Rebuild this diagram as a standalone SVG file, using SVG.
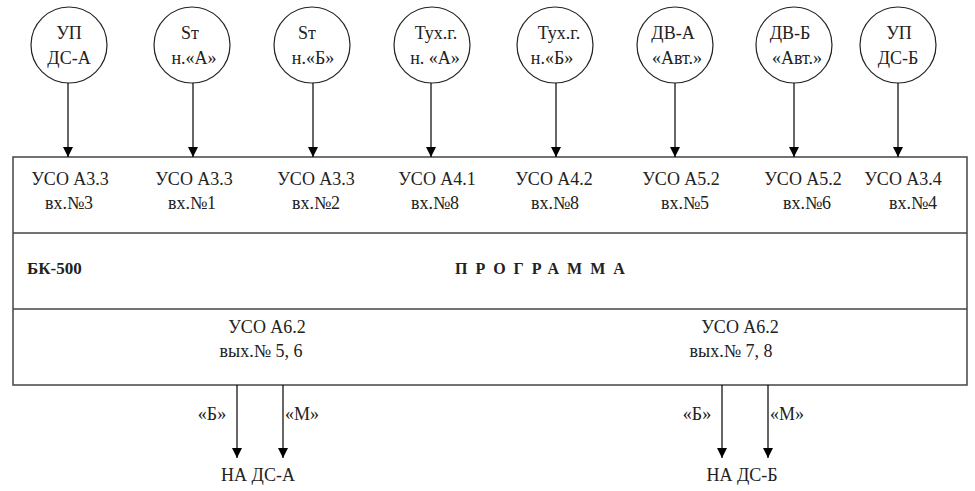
<svg xmlns="http://www.w3.org/2000/svg" width="975" height="491" viewBox="0 0 975 491">
<defs>
<marker id="ah" markerWidth="10" markerHeight="12" refX="10" refY="5" orient="auto" markerUnits="userSpaceOnUse">
<path d="M0,0 L10,5 L0,10 Z" fill="#000"/>
</marker>
<style>
text{font-family:'Liberation Serif','Times New Roman','DejaVu Serif',serif;font-size:18px;fill:#222;text-anchor:middle}
.c{fill:#fff;stroke:#222;stroke-width:1.2}
.b{fill:#fff;stroke:#444;stroke-width:1.5}
.d{stroke:#444;stroke-width:1.5}
.a{stroke:#000;stroke-width:1.2;fill:none;marker-end:url(#ah)}
.bold{font-weight:bold}
</style>
</defs>
<rect width="975" height="491" fill="#fff"/>
<g font-family="Liberation Serif, Times New Roman, serif">
<g id="n1"><circle class="c" cx="69" cy="45" r="38"/><text x="69" y="39">УП</text><text x="69" y="64">ДС-А</text></g>
<g id="n2"><circle class="c" cx="192" cy="45" r="38"/><text x="190" y="39">Sт</text><text x="194" y="64">н.«А»</text></g>
<g id="n3"><circle class="c" cx="312" cy="45" r="38"/><text x="307" y="39">Sт</text><text x="313" y="64">н.«Б»</text></g>
<g id="n4"><circle class="c" cx="432" cy="45" r="38"/><text x="436" y="39">Тух.г.</text><text x="435" y="64">н. «А»</text></g>
<g id="n5"><circle class="c" cx="555" cy="45" r="38"/><text x="559" y="39">Тух.г.</text><text x="552" y="64">н.«Б»</text></g>
<g id="n6"><circle class="c" cx="675" cy="45" r="38"/><text x="673" y="39">ДВ-А</text><text x="677" y="64">«Авт.»</text></g>
<g id="n7"><circle class="c" cx="794" cy="45" r="38"/><text x="790" y="39">ДВ-Б</text><text x="797" y="64">«Авт.»</text></g>
<g id="n8"><circle class="c" cx="898" cy="45" r="38"/><text x="899" y="39">УП</text><text x="898" y="64">ДС-Б</text></g>
<g id="bk500">
<rect class="b" x="13" y="157" width="954" height="228"/>
<line class="d" x1="13" y1="233" x2="967" y2="233"/>
<line class="d" x1="13" y1="309" x2="967" y2="309"/>
<text x="70" y="185">УСО А3.3</text><text x="69" y="209">вх.№3</text>
<text x="194" y="185">УСО А3.3</text><text x="192" y="209">вх.№1</text>
<text x="316" y="185">УСО А3.3</text><text x="316" y="209">вх.№2</text>
<text x="437" y="185">УСО А4.1</text><text x="435" y="209">вх.№8</text>
<text x="554" y="185">УСО А4.2</text><text x="555" y="209">вх.№8</text>
<text x="681" y="185">УСО А5.2</text><text x="685" y="209">вх.№5</text>
<text x="803" y="185">УСО А5.2</text><text x="807" y="209">вх.№6</text>
<text x="903" y="185">УСО А3.4</text><text x="913" y="209">вх.№4</text>
<text class="bold" x="27" y="274" style="text-anchor:start;font-size:17px">БК-500</text>
<text class="bold" x="455" y="274" style="text-anchor:start;font-size:16px;letter-spacing:8px">ПРОГРАММА</text>
<text x="267" y="333">УСО А6.2</text><text x="261" y="357">вых.№ 5, 6</text>
<text x="740" y="333">УСО А6.2</text><text x="731" y="357">вых.№ 7, 8</text>
</g>
<g id="connectors">
<line class="a" x1="68" y1="83" x2="68" y2="157"/>
<line class="a" x1="193" y1="83" x2="193" y2="157"/>
<line class="a" x1="313" y1="83" x2="313" y2="157"/>
<line class="a" x1="431" y1="83" x2="431" y2="157"/>
<line class="a" x1="556" y1="83" x2="556" y2="157"/>
<line class="a" x1="675" y1="83" x2="675" y2="157"/>
<line class="a" x1="794" y1="83" x2="794" y2="157"/>
<line class="a" x1="898" y1="83" x2="898" y2="157"/>
<line class="a" x1="237" y1="385" x2="237" y2="458"/>
<line class="a" x1="283" y1="385" x2="283" y2="458"/>
<line class="a" x1="722" y1="385" x2="722" y2="458"/>
<line class="a" x1="768" y1="385" x2="768" y2="458"/>
<text x="212" y="420">«Б»</text><text x="302" y="420">«М»</text>
<text x="697" y="420">«Б»</text><text x="787" y="420">«М»</text>
</g>
<g id="outA"><text x="258" y="481">НА ДС-А</text></g>
<g id="outB"><text x="742" y="481">НА ДС-Б</text></g>
</g>
</svg>
